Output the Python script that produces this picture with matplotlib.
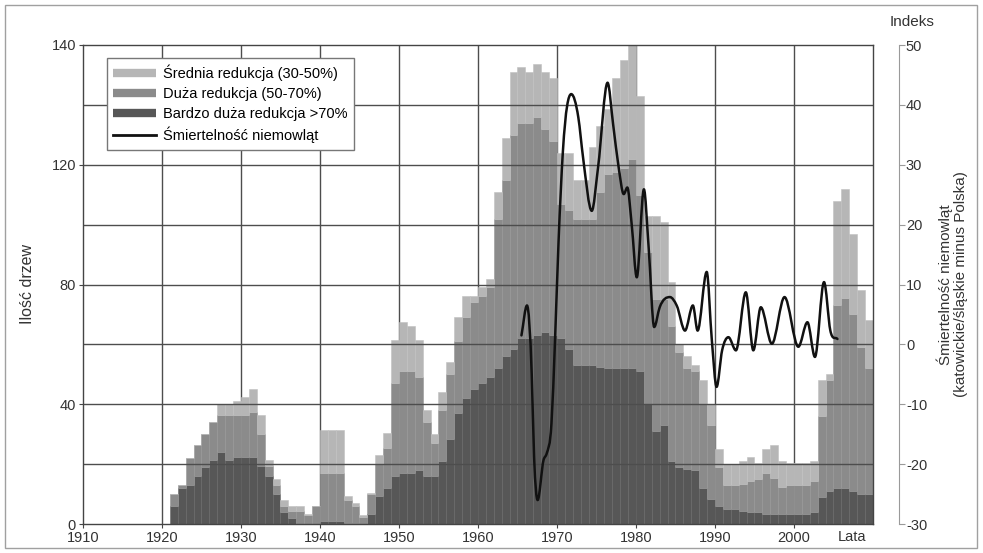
import numpy as np
import matplotlib
matplotlib.use("Agg")
import matplotlib.pyplot as plt
from matplotlib.path import Path
from matplotlib.patches import PathPatch, Rectangle
from matplotlib.lines import Line2D

plt.rcParams['font.family'] = ['Liberation Sans', 'DejaVu Sans']
plt.rcParams['axes.unicode_minus'] = False

# liczba drzew w danym roku wg stopnia redukcji przyrostu
lata = np.arange(1921, 2010)
bardzo_duza = [6, 12, 13, 16, 19, 21.5, 24, 21.5, 22.5, 22.5,
               22.5, 19.5, 16, 10, 4, 2, 0, 0, 0, 1,
               1, 1, 0.5, 0.5, 0, 3.5, 9.5, 12, 16, 17,
               17, 18, 16, 16, 21, 28.5, 37, 42, 45, 47,
               49, 52, 56, 58.5, 62, 62, 63, 64, 63, 62,
               58.5, 53, 53, 53, 52.5, 52, 52, 52, 52, 51,
               40, 31, 33, 21, 19, 18.5, 18, 12, 8.5, 6,
               5, 5, 4.5, 4, 4, 3.5, 3.5, 3.5, 3.5, 3.5,
               3.5, 4, 9, 11, 12, 12, 11, 10, 10]
duza = [4, 1, 9, 10.5, 11, 12.5, 12.5, 15, 14, 14,
        15, 10.5, 3.5, 3, 2, 2.5, 4.5, 3, 6, 16,
        16, 16, 7.5, 5.5, 2.5, 6.5, 10.5, 13.5, 31, 34,
        34, 31, 18, 11, 17, 21.5, 24, 27, 29, 29,
        30, 50, 59, 71.5, 72, 72, 73, 68, 65, 45,
        46.5, 49, 49, 49, 58.5, 65, 65.5, 67, 70, 59,
        51, 44, 42, 45, 38.5, 33.5, 33, 28, 24.5, 13,
        8, 8, 9, 10.5, 11, 13.5, 12, 9, 9.5, 9.5,
        9.5, 10.5, 27, 37, 61, 63.5, 59, 49, 42]
srednia = [0, 0, 0, 0, 0, 0, 3.5, 3.5, 4.5, 6,
           7.5, 6.5, 2, 2, 2, 1.5, 1.5, 0.5, 0, 14.5,
           14.5, 14.5, 1.5, 1, 0.5, 0.5, 3, 5, 14.5, 16.5,
           15, 12.5, 4, 3, 6, 4, 8, 7, 2, 3,
           3, 9, 14, 21, 18.5, 17, 17.5, 19, 21, 17,
           19, 13, 13, 24, 22, 21.5, 31.5, 36, 38, 33,
           12, 28, 26, 15, 2.5, 4, 2, 8, 7, 6,
           7, 7, 7.5, 8, 5.5, 8, 11, 8.5, 7.5, 7.5,
           7.5, 6.5, 12, 2, 35, 36.5, 27, 19, 16]

# indeks śmiertelności niemowląt (katowickie/śląskie minus Polska)
lata_indeks = [1965.5, 1966.2, 1966.8, 1967.1, 1967.55, 1968.3, 1968.7, 1969.3,
               1969.75, 1970.2, 1970.75, 1971.8, 1972.7, 1973.3, 1974.4, 1975.2,
               1976.4, 1977.1, 1977.8, 1978.45, 1978.9, 1979.45, 1980.1, 1981.0,
               1981.6, 1982.3, 1983.0, 1984.3, 1985.15, 1986.2, 1987.2, 1987.8,
               1988.95, 1989.6, 1990.2, 1990.9, 1991.7, 1992.65, 1993.9, 1994.85,
               1995.8, 1997.2, 1998.8, 2000.55, 2001.7, 2002.65, 2003.8, 2004.6,
               2005.5]
indeks = [1.5, 6.5, -5, -18.8, -26, -19.3, -18.2, -13.2,
          0.7, 17.3, 32.3, 41.8, 37.9, 31.2, 22.3, 29.6,
          43.7, 36.8, 29.6, 25.1, 26.2, 20.1, 11.2, 25.9,
          16.2, 2.9, 6.2, 7.9, 6.5, 2.3, 6.5, 2.3,
          12.1, 0.7, -7.1, -1, 1.2, -1, 8.7, -1,
          6.2, 0.1, 7.9, -0.4, 3.7, -2.1, 10.4, 2.3,
          0.9]

kol_sr, kol_du, kol_bd = '#b6b6b6', '#8b8b8b', '#575757'
kol_siatki = '#4d4d4d'

fig = plt.figure(figsize=(9.83, 5.53), dpi=100)
ax = fig.add_axes([83 / 983, 1 - 524 / 553, 790 / 983, 479 / 553])

bd = np.array(bardzo_duza)
du = np.array(duza)
sr = np.array(srednia)
ax.bar(lata, bd, width=1, align='edge', color=kol_bd, edgecolor='#666666', linewidth=0.4, zorder=1)
ax.bar(lata, du, bottom=bd, width=1, align='edge', color=kol_du, edgecolor='#969696', linewidth=0.4, zorder=1)
ax.bar(lata, sr, bottom=bd + du, width=1, align='edge', color=kol_sr, edgecolor='#c0c0c0', linewidth=0.4, zorder=1)

# pionowe linie siatki pod słupkami, poziome nad nimi
ax.vlines(np.arange(1920, 2010, 10), 0, 160, colors=kol_siatki, lw=1, zorder=0.5)
ax.hlines(np.arange(20, 160, 20), 1910, 2010, colors=kol_siatki, lw=1, zorder=2.5)

ax.set_xlim(1910, 2010)
ax.set_ylim(0, 160)
ax.set_xticks(np.arange(1910, 2001, 10))
ax.set_yticks([0, 40, 80, 120, 160])
ax.set_yticklabels(['0', '40', '80', '120', '140'])
ax.tick_params(axis='both', length=3, color='#444444', labelsize=10.5, labelcolor='#333333', pad=2)
for s in ax.spines.values():
    s.set_color('#444444')
    s.set_linewidth(1)

ax.set_ylabel('Ilość drzew', fontsize=11.5, color='#333333')
ax.yaxis.set_label_coords(-0.061, 0.5)
ax.text(2007.3, -0.012, 'Lata', transform=ax.get_xaxis_transform(),
        ha='center', va='top', fontsize=10.5, color='#333333')

uchwyty = [Line2D([0], [0], color=kol_sr, lw=6, solid_capstyle='butt'),
           Line2D([0], [0], color=kol_du, lw=6, solid_capstyle='butt'),
           Line2D([0], [0], color=kol_bd, lw=6, solid_capstyle='butt'),
           Line2D([0], [0], color='#111111', lw=2)]
opisy = ['Średnia redukcja (30-50%)', 'Duża redukcja (50-70%)',
         'Bardzo duża redukcja >70%', 'Śmiertelność niemowląt']
leg = ax.legend(uchwyty, opisy, loc='upper left', bbox_to_anchor=(0.030, 0.973),
                borderaxespad=0, fancybox=False, framealpha=1, edgecolor='#777777',
                fontsize=10.5, handlelength=2.9, labelspacing=0.4, borderpad=0.45,
                handletextpad=0.5)
leg.get_frame().set_linewidth(1)
leg.set_zorder(5)

# prawa oś - indeks
ax2 = ax.twinx()
ax2.set_ylim(-30, 50)
ax2.set_yticks(np.arange(-30, 51, 10))
for k in ['top', 'left', 'bottom']:
    ax2.spines[k].set_visible(False)
ax2.spines['right'].set_position(('axes', (899 - 83) / 790))
ax2.spines['right'].set_color('#9a9a9a')
ax2.spines['right'].set_linewidth(0.8)
ax2.tick_params(axis='y', direction='out', length=4, color='#9a9a9a',
                labelsize=10.5, labelcolor='#333333', pad=1)
ax2.set_ylabel('Śmiertelność niemowląt\n(katowickie/śląskie minus Polska)',
               fontsize=11, color='#333333', rotation=90, linespacing=1.15)
ax2.yaxis.set_label_coords(1.080, 0.5)
fig.text(912 / 983, 1 - 22 / 553, 'Indeks', ha='center', va='center',
         fontsize=11, color='#333333')

# gładka krzywa przez odczytane punkty (krzywe Béziera)
x = np.array(lata_indeks)
y = np.array(indeks)
m = np.gradient(y, x)
for i in range(1, len(x) - 1):
    if (y[i] - y[i - 1]) * (y[i + 1] - y[i]) < 0:
        m[i] = 0
verts = [(x[0], y[0])]
codes = [Path.MOVETO]
for i in range(len(x) - 1):
    dx = x[i + 1] - x[i]
    verts += [(x[i] + dx / 3, y[i] + m[i] * dx / 3),
              (x[i + 1] - dx / 3, y[i + 1] - m[i + 1] * dx / 3),
              (x[i + 1], y[i + 1])]
    codes += [Path.CURVE4] * 3
ax2.add_patch(PathPatch(Path(verts, codes), fill=False, edgecolor='#111111',
                        lw=1.8, capstyle='round', joinstyle='round', zorder=3))

fig.patches.append(Rectangle((5 / 983, 5 / 553), 972 / 983, 543 / 553,
                             transform=fig.transFigure, fill=False,
                             edgecolor='#a0a0a0', lw=1))

fig.savefig('out.png', dpi=100)
